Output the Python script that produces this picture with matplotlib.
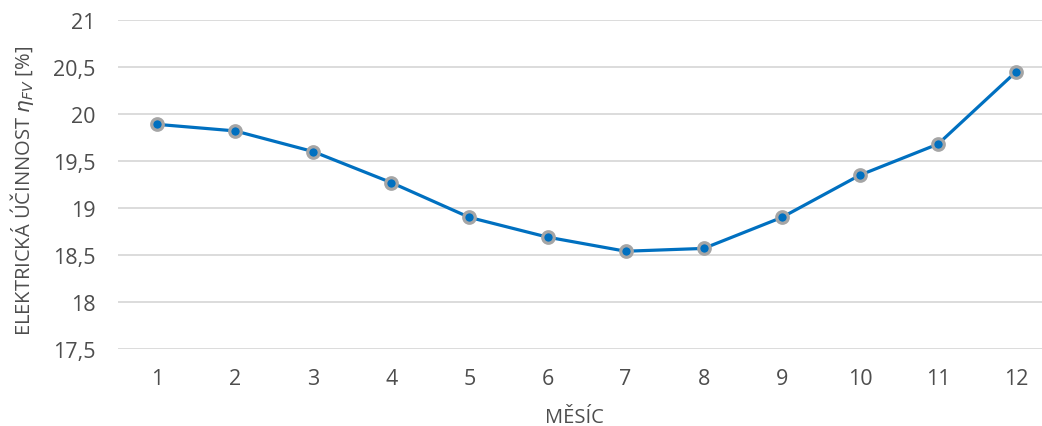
import matplotlib
matplotlib.use("Agg")
import matplotlib.pyplot as plt

months = [1, 2, 3, 4, 5, 6, 7, 8, 9, 10, 11, 12]
efficiency = [19.89, 19.82, 19.60, 19.27, 18.90, 18.69, 18.54, 18.57, 18.90, 19.35, 19.68, 20.45]
yticks = [17.5, 18, 18.5, 19, 19.5, 20, 20.5, 21]
ytick_labels = ["17,5", "18", "18,5", "19", "19,5", "20", "20,5", "21"]

plt.rcParams['font.family'] = ['Open Sans', 'DejaVu Sans']
text_color = '#4D4D4D'

fig = plt.figure(figsize=(10.42, 4.27), dpi=100)
W, H = 1042, 427
left, right, top, bottom = 118, 1042, 21, 350
ax = fig.add_axes([left / W, (H - bottom) / H, (right - left) / W, (bottom - top) / H])

ax.plot(months, efficiency, color='#0070C0', linewidth=2.3, marker='o',
        markersize=8.3, markerfacecolor='#0070C0', markeredgecolor='#A5A5A5',
        markeredgewidth=2.3, zorder=3, clip_on=False)

step = 78.1
ax.set_xlim(0.5, 0.5 + (right - left) / step)
ax.set_ylim(17.5, 21)
ax.set_xticks(months)
ax.set_xticklabels([str(m) for m in months])
ax.set_yticks(yticks)
ax.set_yticklabels(ytick_labels)
ax.grid(axis='y', color='#D9D9D9', linewidth=1.3, zorder=0)
ax.set_axisbelow(True)
for s in ax.spines.values():
    s.set_visible(False)
ax.tick_params(axis='both', length=0, labelsize=15.5, colors=text_color)
ax.tick_params(axis='x', pad=14)
ax.tick_params(axis='y', pad=16)

ax.set_xlabel("MĚSÍC", fontsize=14.5, color=text_color)
ax.set_ylabel(r"ELEKTRICKÁ ÚČINNOST $\eta_{FV}$ [%]", fontsize=14.5, color=text_color)
ax.xaxis.set_label_coords((574.5 - left) / (right - left), (bottom - 408) / (bottom - top))
ax.yaxis.set_label_coords((36 - left) / (right - left), (bottom - 191) / (bottom - top))

fig.savefig("out.png", dpi=100)
